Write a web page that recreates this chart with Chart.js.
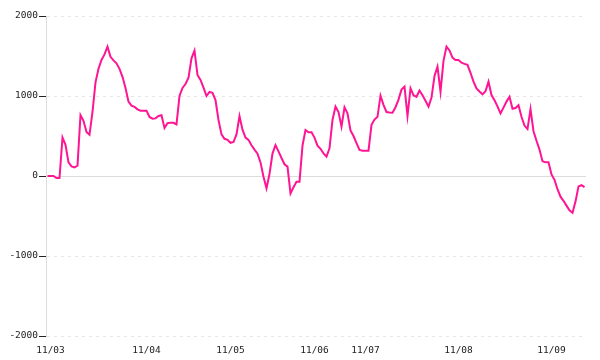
<!DOCTYPE html>
<html>
<head>
<meta charset="utf-8">
<script src="https://cdn.jsdelivr.net/npm/chart.js@4"></script>
<style>
html,body{margin:0;padding:0;background:#fff;}
#wrap{width:600px;height:360px;}
</style>
</head>
<body>
<div id="wrap"><canvas id="c" width="600" height="360"></canvas></div>
<script>
const values = [
  0, 0, 0, -25, -25, 480, 390, 170, 120, 108,
  129, 760, 690, 550, 515, 800, 1170, 1340, 1450, 1520,
  1617, 1490, 1445, 1408, 1340, 1240, 1100, 930, 880, 864,
  833, 817, 817, 817, 738, 717, 720, 750, 760, 600,
  660, 667, 665, 645, 1000, 1100, 1150, 1230, 1471, 1567,
  1262, 1200, 1105, 1000, 1050, 1040, 950, 700, 520, 465,
  452, 415, 425, 520, 750, 580, 480, 452, 385, 330,
  280, 170, -10, -154, 25, 280, 387, 308, 225, 147,
  117, -217, -140, -71, -71, 380, 575, 546, 546, 480,
  380, 340, 283, 242, 346, 700, 867, 800, 617, 858,
  783, 570, 500, 410, 325, 317, 317, 317, 640, 705,
  740, 1004, 890, 800, 795, 792, 860, 955, 1080, 1117,
  750, 1096, 1010, 990, 1067, 1010, 940, 867, 980, 1250,
  1367, 1054, 1440, 1617, 1570, 1480, 1450, 1450, 1417, 1402,
  1390, 1290, 1180, 1096, 1056, 1020, 1060, 1179, 1012, 946,
  870, 783, 855, 930, 990, 840, 850, 885, 740, 630,
  587, 837, 560, 440, 330, 185, 171, 171, 20, -48,
  -165, -258, -310, -370, -430, -460, -320, -130, -115, -140
];
const tickLabels = ['11/03', '11/04', '11/05', '11/06', '11/07', '11/08', '11/09'];
const tickIndex = [1, 33, 61, 89, 106, 137, 168];
const yTicks = [-2000, -1000, 0, 1000, 2000];

const categories = values.map((v, i) => {
  const k = tickIndex.indexOf(i);
  return k >= 0 ? tickLabels[k] : '';
});

const FONT = {family: '"DejaVu Sans Mono", monospace', size: 9.5};

new Chart(document.getElementById('c'), {
  type: 'line',
  data: {
    labels: categories,
    datasets: [{
      data: values,
      borderColor: '#ff1493',
      borderWidth: 2,
      pointRadius: 0,
      pointHoverRadius: 0,
      tension: 0,
      fill: false
    }]
  },
  options: {
    responsive: false,
    animation: false,
    events: [],
    layout: {padding: {left: 0, top: 16, right: 14, bottom: 0}},
    plugins: {legend: {display: false}, tooltip: {enabled: false}},
    scales: {
      x: {
        type: 'category',
        offset: true,
        grid: {display: false},
        border: {display: false},
        ticks: {
          autoSkip: false,
          maxRotation: 0,
          minRotation: 0,
          padding: 1,
          color: '#222',
          font: FONT,
          callback: function(val) {
            const l = this.getLabelForValue(val);
            return l === '' ? null : l;
          }
        },
        afterFit: s => { s.height = 24; }
      },
      y: {
        min: yTicks[0],
        max: yTicks[yTicks.length - 1],
        afterBuildTicks: s => { s.ticks = yTicks.map(v => ({value: v})); },
        ticks: {
          color: '#222',
          font: FONT,
          padding: 1,
          callback: v => String(v)
        },
        grid: {
          color: ctx => ctx.tick && ctx.tick.value === 0 ? '#dcdcdc' : '#e6e6e6',
          lineWidth: 1,
          tickColor: '#222',
          tickLength: 7,
          tickBorderDash: []
        },
        border: {
          display: true,
          color: '#dcdcdc',
          dash: ctx => ctx.tick && ctx.tick.value === 0 ? [] : [3, 4]
        },
        afterFit: s => { s.width = 46; }
      }
    }
  }
});
</script>
</body>
</html>
